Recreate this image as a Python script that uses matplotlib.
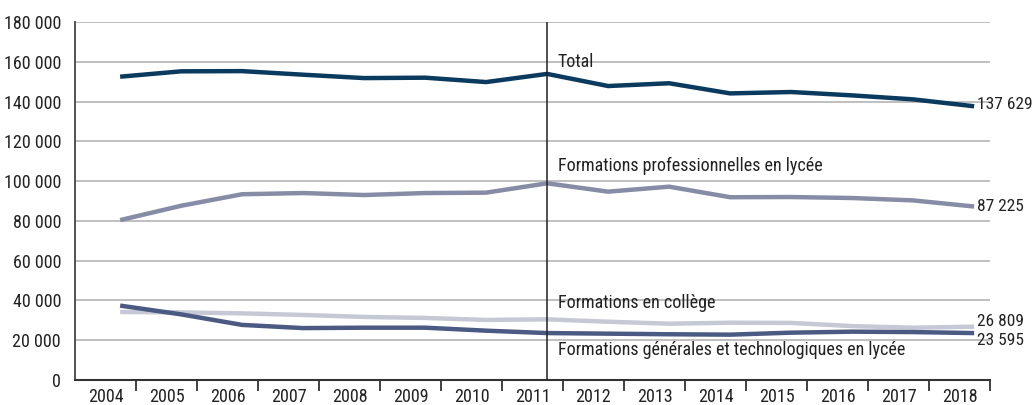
import matplotlib
matplotlib.use("Agg")
import matplotlib.pyplot as plt
import numpy as np

years = ["2004", "2005", "2006", "2007", "2008", "2009", "2010", "2011",
         "2012", "2013", "2014", "2015", "2016", "2017", "2018"]
total = [152500, 155200, 155300, 153500, 151800, 152000, 149800, 153900,
         147800, 149200, 144100, 144800, 143100, 141100, 137629]
pro = [80400, 87600, 93400, 94000, 93000, 94000, 94200, 98900,
       94700, 97200, 91900, 92000, 91500, 90300, 87225]
gentech = [37400, 33000, 27700, 26100, 26300, 26300, 24800, 23600,
           23300, 23000, 22800, 23800, 24300, 24100, 23595]
college = [34200, 34000, 33500, 32700, 31700, 31200, 30200, 30500,
           29300, 28300, 28800, 28700, 27100, 26300, 26809]
yticks = [0, 20000, 40000, 60000, 80000, 100000, 120000, 140000, 160000, 180000]

plt.rcParams['font.family'] = ['Roboto Condensed', 'DejaVu Sans']
FS = 13
FS_END = 12.5

fig = plt.figure(figsize=(10.32, 4.05), dpi=100)
ax = fig.add_axes([75/1032, 1-380/405, (990-75)/1032, (380-22)/405])

n = len(years)
cx = np.arange(n)
px = cx + 0.24

c_total = "#0b3a5f"
c_pro = "#868ca6"
c_gen = "#4b5a82"
c_col = "#c6c8d6"

ax.plot(px, college, color=c_col, lw=3.2, solid_capstyle='butt', zorder=3)
ax.plot(px, gentech, color=c_gen, lw=3.2, solid_capstyle='butt', zorder=4)
ax.plot(px, pro, color=c_pro, lw=3.2, solid_capstyle='butt', zorder=3)
ax.plot(px, total, color=c_total, lw=3.2, solid_capstyle='butt', zorder=3)

ax.set_xlim(-0.5, n - 0.5)
ax.set_ylim(0, 180000)
ax.set_yticks(yticks)
ax.set_yticklabels([f"{v:,}".replace(",", " ") for v in yticks], fontsize=FS, color="#222222")
ax.yaxis.grid(True, color="#b4b4b4", lw=1.2)
ax.set_axisbelow(True)
ax.tick_params(axis='y', length=0, pad=10)

ax.set_xticks(cx)
ax.set_xticklabels(years, fontsize=FS, color="#222222")
ax.set_xticks(np.arange(n) + 0.5, minor=True)
ax.tick_params(axis='x', which='major', length=0, pad=6)
ax.tick_params(axis='x', which='minor', length=8, width=1.3, direction='out', color="#333333")

for s in ['top', 'right']:
    ax.spines[s].set_visible(False)
ax.spines['left'].set_color("#444444")
ax.spines['left'].set_linewidth(1.3)
ax.spines['bottom'].set_color("#333333")
ax.spines['bottom'].set_linewidth(1.5)

# vertical line at 2011
ax.axvline(px[7], color="#222222", lw=1.1, zorder=5)

# series labels
lx = px[7] + 0.17
ax.text(lx, 160000, "Total", fontsize=FS, va='center', ha='left', color="#222222")
ax.text(lx, 107500, "Formations professionnelles en lycée", fontsize=FS, va='center', ha='left', color="#222222")
ax.text(lx, 38500, "Formations en collège", fontsize=FS, va='center', ha='left', color="#222222")
ax.text(lx, 15000, "Formations générales et technologiques en lycée", fontsize=FS, va='center', ha='left', color="#222222")

# end labels
ex = px[-1] + 0.04
ax.text(ex, total[-1] + 800, "137 629", fontsize=FS_END, va='center', ha='left', color="#222222", clip_on=False)
ax.text(ex, pro[-1] + 200, "87 225", fontsize=FS_END, va='center', ha='left', color="#222222", clip_on=False)
ax.text(ex, 29300, "26 809", fontsize=FS_END, va='center', ha='left', color="#222222", clip_on=False)
ax.text(ex, 19900, "23 595", fontsize=FS_END, va='center', ha='left', color="#222222", clip_on=False)

fig.savefig("out.png", dpi=100)
